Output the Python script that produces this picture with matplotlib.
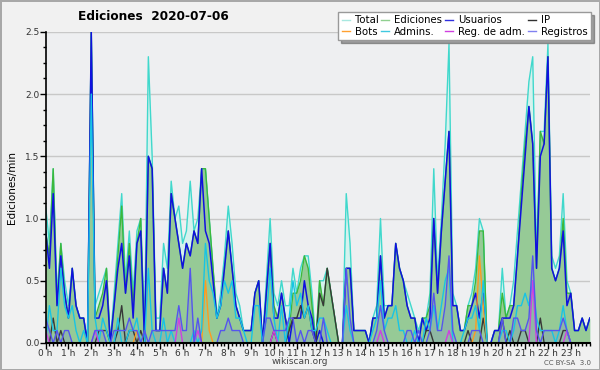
import numpy as np
import matplotlib
matplotlib.use('Agg')
import matplotlib.pyplot as plt
from matplotlib.lines import Line2D
from matplotlib.ticker import MultipleLocator

# Valores cada 10 minutos (ediciones/min), 6 por hora
total = [1.1, 0.8, 1.4, 0.4, 0.8, 0.5,  0.3, 0.6, 0.3, 0.2, 0.2, 0.0,
         2.5, 0.3, 0.4, 0.5, 0.6, 0.0,  0.4, 0.8, 1.2, 0.5, 0.9, 0.4,
         0.9, 1.0, 0.1, 2.3, 1.5, 0.2,  0.2, 0.8, 0.6, 1.3, 1.0, 1.1,
         0.8, 0.9, 1.3, 0.9, 1.0, 1.4,  1.4, 1.0, 0.6, 0.2, 0.4, 0.7,
         1.1, 0.8, 0.4, 0.3, 0.1, 0.1,  0.1, 0.4, 0.5, 0.0, 0.5, 1.0,
         0.4, 0.3, 0.5, 0.3, 0.3, 0.6,  0.4, 0.6, 0.7, 0.7, 0.4, 0.0,
         0.5, 0.5, 0.6, 0.4, 0.2, 0.0,  0.0, 1.2, 0.8, 0.1, 0.1, 0.1,
         0.1, 0.0, 0.2, 0.3, 1.0, 0.3,  0.3, 0.3, 0.8, 0.6, 0.5, 0.4,
         0.3, 0.2, 0.1, 0.2, 0.2, 0.4,  1.4, 0.5, 1.0, 1.6, 2.4, 0.4,
         0.3, 0.1, 0.1, 0.3, 0.4, 0.6,  1.0, 0.9, 0.0, 0.0, 0.1, 0.1,
         0.6, 0.2, 0.3, 0.5, 0.9, 1.3,  1.7, 2.1, 2.3, 0.7, 1.7, 1.7,
         2.4, 0.7, 0.6, 0.7, 1.2, 0.5,  0.4, 0.1, 0.1, 0.2, 0.1, 0.2]
ediciones = [0.9, 0.7, 1.4, 0.3, 0.8, 0.4,  0.2, 0.6, 0.3, 0.2, 0.2, 0.0,
             2.5, 0.2, 0.3, 0.4, 0.6, 0.0,  0.3, 0.7, 1.1, 0.4, 0.8, 0.3,
             0.8, 1.0, 0.0, 1.5, 1.4, 0.1,  0.1, 0.6, 0.4, 1.2, 1.0, 0.8,
             0.6, 0.8, 0.7, 0.9, 0.8, 1.4,  1.4, 1.0, 0.6, 0.2, 0.3, 0.6,
             0.9, 0.6, 0.3, 0.2, 0.1, 0.1,  0.1, 0.4, 0.5, 0.0, 0.4, 0.8,
             0.3, 0.2, 0.4, 0.2, 0.1, 0.4,  0.4, 0.5, 0.7, 0.6, 0.3, 0.0,
             0.5, 0.3, 0.6, 0.4, 0.2, 0.0,  0.0, 0.6, 0.6, 0.1, 0.1, 0.1,
             0.1, 0.0, 0.2, 0.2, 0.7, 0.2,  0.3, 0.3, 0.8, 0.6, 0.5, 0.3,
             0.2, 0.2, 0.0, 0.2, 0.2, 0.3,  1.0, 0.4, 0.9, 1.3, 1.7, 0.3,
             0.3, 0.1, 0.1, 0.3, 0.3, 0.5,  0.9, 0.9, 0.0, 0.0, 0.1, 0.1,
             0.4, 0.2, 0.3, 0.3, 0.7, 1.2,  1.6, 1.9, 1.6, 0.6, 1.7, 1.6,
             2.3, 0.6, 0.5, 0.6, 1.0, 0.4,  0.4, 0.1, 0.1, 0.2, 0.1, 0.2]
usuarios = [0.9, 0.6, 1.2, 0.3, 0.7, 0.4,  0.2, 0.6, 0.3, 0.2, 0.2, 0.0,
            2.5, 0.2, 0.2, 0.3, 0.5, 0.0,  0.3, 0.6, 0.8, 0.4, 0.7, 0.2,
            0.8, 0.9, 0.0, 1.5, 1.4, 0.1,  0.1, 0.6, 0.4, 1.2, 1.0, 0.8,
            0.6, 0.8, 0.7, 0.9, 0.8, 1.4,  0.9, 0.8, 0.5, 0.2, 0.3, 0.6,
            0.9, 0.6, 0.3, 0.2, 0.1, 0.1,  0.1, 0.4, 0.5, 0.0, 0.4, 0.8,
            0.2, 0.2, 0.4, 0.2, 0.0, 0.2,  0.2, 0.2, 0.5, 0.3, 0.2, 0.0,
            0.1, 0.0, 0.0, 0.0, 0.0, 0.0,  0.0, 0.6, 0.6, 0.1, 0.1, 0.1,
            0.1, 0.0, 0.2, 0.2, 0.7, 0.2,  0.3, 0.3, 0.8, 0.6, 0.5, 0.3,
            0.2, 0.2, 0.0, 0.2, 0.1, 0.2,  1.0, 0.4, 0.9, 1.3, 1.7, 0.3,
            0.3, 0.1, 0.1, 0.2, 0.3, 0.4,  0.2, 0.4, 0.0, 0.0, 0.1, 0.1,
            0.2, 0.2, 0.2, 0.3, 0.7, 1.1,  1.5, 1.9, 1.6, 0.6, 1.5, 1.6,
            2.3, 0.6, 0.5, 0.6, 0.9, 0.3,  0.4, 0.1, 0.1, 0.2, 0.1, 0.2]
ip = [0.0, 0.0, 0.2, 0.0, 0.1, 0.0,  0.0, 0.0, 0.0, 0.0, 0.0, 0.0,
      0.0, 0.0, 0.1, 0.1, 0.1, 0.0,  0.0, 0.1, 0.3, 0.0, 0.1, 0.1,
      0.0, 0.1, 0.0, 0.0, 0.0, 0.0,  0.0, 0.0, 0.0, 0.0, 0.0, 0.0,
      0.0, 0.0, 0.0, 0.0, 0.0, 0.0,  0.0, 0.0, 0.0, 0.0, 0.0, 0.0,
      0.0, 0.0, 0.0, 0.0, 0.0, 0.0,  0.0, 0.0, 0.0, 0.0, 0.0, 0.0,
      0.1, 0.0, 0.0, 0.0, 0.1, 0.2,  0.2, 0.3, 0.2, 0.3, 0.1, 0.0,
      0.4, 0.3, 0.6, 0.4, 0.2, 0.0,  0.0, 0.0, 0.0, 0.0, 0.0, 0.0,
      0.0, 0.0, 0.0, 0.0, 0.0, 0.0,  0.0, 0.0, 0.0, 0.0, 0.0, 0.0,
      0.0, 0.0, 0.0, 0.0, 0.1, 0.1,  0.0, 0.0, 0.0, 0.0, 0.0, 0.0,
      0.0, 0.0, 0.0, 0.1, 0.0, 0.0,  0.0, 0.2, 0.0, 0.0, 0.0, 0.0,
      0.2, 0.0, 0.1, 0.0, 0.0, 0.1,  0.1, 0.0, 0.0, 0.0, 0.2, 0.0,
      0.0, 0.0, 0.0, 0.0, 0.1, 0.1,  0.0, 0.0, 0.0, 0.0, 0.0, 0.0]
bots = [0.0] * 24 + [0.1] + [0.0] * 17 + [0.5, 0.1] + [0.0] * 69 + [0.1, 0.7, 0.3] + [0.0] * 28
admins = [0.0, 0.3, 0.1, 0.1, 0.6, 0.3,  0.2, 0.3, 0.1, 0.0, 0.1, 0.0,
          2.0, 0.2, 0.0, 0.2, 0.1, 0.0,  0.0, 0.2, 0.0, 0.0, 0.1, 0.1,
          0.2, 0.0, 0.0, 0.6, 0.1, 0.0,  0.0, 0.2, 0.0, 0.1, 0.0, 0.0,
          0.0, 0.0, 0.0, 0.1, 0.0, 0.1,  0.8, 0.5, 0.4, 0.2, 0.3, 0.5,
          0.4, 0.5, 0.2, 0.2, 0.1, 0.0,  0.0, 0.3, 0.3, 0.0, 0.2, 0.6,
          0.2, 0.0, 0.3, 0.0, 0.2, 0.5,  0.3, 0.4, 0.2, 0.3, 0.1, 0.1,
          0.2, 0.2, 0.1, 0.0, 0.0, 0.0,  0.0, 0.3, 0.1, 0.0, 0.0, 0.0,
          0.0, 0.0, 0.1, 0.2, 0.5, 0.1,  0.2, 0.2, 0.3, 0.1, 0.1, 0.0,
          0.0, 0.1, 0.0, 0.0, 0.2, 0.1,  0.3, 0.1, 0.3, 0.5, 0.6, 0.0,
          0.0, 0.0, 0.1, 0.2, 0.2, 0.3,  0.1, 0.5, 0.0, 0.0, 0.0, 0.0,
          0.1, 0.1, 0.0, 0.1, 0.3, 0.3,  0.4, 0.3, 0.5, 0.2, 0.1, 0.1,
          0.1, 0.1, 0.0, 0.1, 0.3, 0.1,  0.0, 0.0, 0.0, 0.0, 0.0, 0.0]
reg_adm = ([0.1] + [0.0] * 12 + [0.1] + [0.0] * 21 + [0.2] + [0.0] * 4 + [0.1]
           + [0.0] * 19 + [0.1] + [0.0] * 27 + [0.1] + [0.0] * 17 + [0.1]
           + [0.0] * 21 + [0.5] + [0.0] * 8 + [0.1] + [0.0] * 6)
registros = [0.2, 0.1, 0.0, 0.1, 0.0, 0.1,  0.1, 0.0, 0.0, 0.0, 0.0, 0.0,
             0.0, 0.1, 0.1, 0.1, 0.0, 0.0,  0.1, 0.1, 0.1, 0.1, 0.2, 0.1,
             0.1, 0.0, 0.1, 0.0, 0.1, 0.1,  0.1, 0.1, 0.1, 0.1, 0.1, 0.3,
             0.1, 0.1, 0.6, 0.0, 0.2, 0.0,  0.0, 0.0, 0.0, 0.0, 0.1, 0.1,
             0.2, 0.1, 0.1, 0.1, 0.0, 0.0,  0.0, 0.0, 0.0, 0.0, 0.2, 0.2,
             0.1, 0.1, 0.1, 0.1, 0.2, 0.2,  0.0, 0.1, 0.0, 0.1, 0.1, 0.0,
             0.0, 0.2, 0.0, 0.0, 0.0, 0.0,  0.0, 0.6, 0.2, 0.0, 0.0, 0.0,
             0.0, 0.0, 0.0, 0.1, 0.3, 0.1,  0.0, 0.0, 0.0, 0.0, 0.0, 0.1,
             0.1, 0.0, 0.1, 0.0, 0.0, 0.1,  0.4, 0.1, 0.1, 0.3, 0.7, 0.1,
             0.0, 0.0, 0.0, 0.0, 0.1, 0.1,  0.1, 0.0, 0.0, 0.0, 0.0, 0.0,
             0.2, 0.0, 0.0, 0.2, 0.2, 0.1,  0.1, 0.2, 0.7, 0.1, 0.0, 0.1,
             0.1, 0.1, 0.1, 0.1, 0.2, 0.1,  0.0, 0.0, 0.0, 0.0, 0.0, 0.0]

hour_labels = ['%d h' % h for h in range(24)]
x = np.arange(len(total)) / 6.0

fig = plt.figure(figsize=(6, 3.7), dpi=100, facecolor='#f1f1f1',
                 edgecolor='#a8a8a8', linewidth=2)
ax = fig.add_axes([0.076, 0.073, 0.907, 0.841])
ax.set_facecolor('#eeeff1')

# areas
ax.fill_between(x, total, color='#d5f2ee', lw=0)
ax.plot(x, total, color='#40d8cc', lw=1)
ax.fill_between(x, ediciones, color='#96ca96', lw=0)
ax.plot(x, ediciones, color='#3cb83c', lw=1)
ax.fill_between(x, registros, color='#6a6ae0', alpha=0.18, lw=0)

# lineas
ax.plot(x, usuarios, color='#1010e0', lw=1.1)
ax.plot(x, ip, color='#383838', lw=1)
ax.plot(x, bots, color='#ff9a20', lw=1)
ax.plot(x, admins, color='#18c4e4', lw=1)
ax.plot(x, reg_adm, color='#d040e0', lw=1)
ax.plot(x, registros, color='#5555ee', lw=1)

ax.set_xlim(0, x[-1])
ax.set_ylim(0, 2.5)
ax.set_xticks(range(24))
ax.set_xticklabels(hour_labels)
ax.xaxis.set_minor_locator(MultipleLocator(1 / 6.0))
ax.yaxis.set_major_locator(MultipleLocator(0.5))
ax.yaxis.set_minor_locator(MultipleLocator(0.125))
ax.yaxis.set_major_formatter(matplotlib.ticker.FormatStrFormatter('%.1f'))
ax.tick_params(axis='both', which='major', labelsize=6.5, length=4, width=1,
               pad=0.5, colors='#000000', labelcolor='#333333')
ax.tick_params(axis='both', which='minor', length=2.5, width=1)
ax.grid(axis='y', which='major', color='#c8c8c8', lw=1)
ax.set_axisbelow(True)
for s in ['top', 'right']:
    ax.spines[s].set_visible(False)
ax.spines['left'].set_linewidth(1.2)
ax.spines['bottom'].set_linewidth(1.5)
ax.set_ylabel('Ediciones/min', fontsize=7.5, labelpad=6)

fig.text(0.255, 0.955, 'Ediciones  2020-07-06', fontsize=8.7, fontweight='bold',
         ha='center', va='center')
fig.text(0.5, 0.022, 'wikiscan.org', fontsize=6.5, color='#444444',
         ha='center', va='center')
fig.text(0.985, 0.02, 'CC BY-SA  3.0', fontsize=5, color='#555555',
         ha='right', va='center')

handles = [Line2D([], [], color=c, lw=1) for c in
           ['#a8e8e0', '#90d090', '#3030e0', '#303030',
            '#ffa030', '#40c8e0', '#d040e0', '#8080f0']]
labels = ['Total', 'Ediciones', 'Usuarios', 'IP',
          'Bots', 'Admins.', 'Reg. de adm.', 'Registros']
# matplotlib rellena por columnas: reordenar para 2 filas x 4 columnas
order = [0, 4, 1, 5, 2, 6, 3, 7]
leg = fig.legend([handles[i] for i in order], [labels[i] for i in order],
                 ncol=4, loc='upper right', bbox_to_anchor=(0.985, 0.968),
                 fontsize=7.3, frameon=True, fancybox=False, shadow=True,
                 handlelength=0.8, handletextpad=0.5, columnspacing=0.25,
                 labelspacing=0.12, borderpad=0.35, borderaxespad=0)
leg.get_frame().set_edgecolor('#999999')
leg.get_frame().set_linewidth(1)

fig.savefig('out.png', dpi=100, facecolor=fig.get_facecolor(),
            edgecolor=fig.get_edgecolor())
